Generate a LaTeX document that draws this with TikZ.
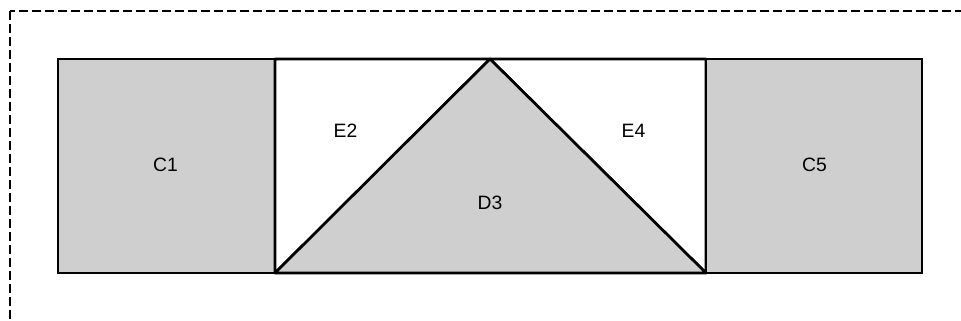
\documentclass[tikz,border=0pt]{standalone}
\usepackage{fontspec}
\setmainfont{Liberation Sans}
\begin{document}
\begin{tikzpicture}[x=0.75pt,y=-0.75pt,
  region/.style={draw=black,line width=2pt,line join=round},
  filled/.style={region,fill=black!19},
  lbl/.style={font=\fontsize{14.5pt}{17pt}\selectfont,inner sep=0pt},
  frame/.style={draw=black,line width=1.8pt,dash pattern=on 6.75pt off 3pt}]
\clip (0,0) rectangle (961,321);
\draw[frame] (10,11) rectangle (990,340);
\coordinate (tl) at (58,59);
\coordinate (a) at (275,59);
\coordinate (apex) at (490,59);
\coordinate (b) at (706,59);
\coordinate (tr) at (922,59);
\coordinate (bl) at (58,273);
\coordinate (a2) at (275,273);
\coordinate (b2) at (706,273);
\coordinate (br) at (922,273);
\draw[filled,line join=miter] (tl) rectangle (a2);
\draw[region,fill=white] (a) -- (apex) -- (a2) -- cycle;
\draw[region,fill=white] (apex) -- (b) -- (b2) -- cycle;
\draw[filled] (a2) -- (apex) -- (b2) -- cycle;
\draw[filled,line join=miter] (b) rectangle (br);
\node[lbl] (c1) at (165.5,165) {C1};
\node[lbl] (e2) at (345.5,131) {E2};
\node[lbl] (d3) at (490,203) {D3};
\node[lbl] (e4) at (633.5,131) {E4};
\node[lbl] (c5) at (814.5,165) {C5};
\end{tikzpicture}
\end{document}
